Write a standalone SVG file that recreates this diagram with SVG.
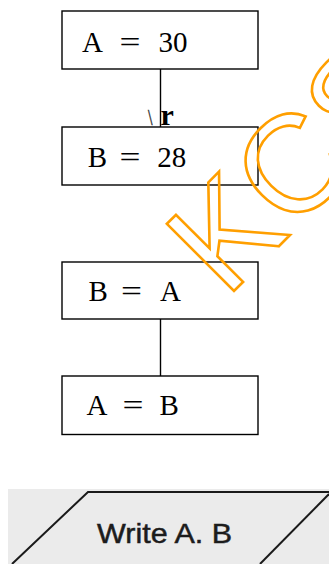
<svg xmlns="http://www.w3.org/2000/svg" width="329" height="564" viewBox="0 0 329 564">
<style>
.box{fill:none;stroke:#000;stroke-width:1.4}
.conn{stroke:#000;stroke-width:1.4}
.lbl{font-family:"Liberation Serif","Times New Roman",serif;font-size:29px;fill:#000}
.wm{font-family:"Liberation Sans",Arial,sans-serif;font-size:138px;fill:none;stroke:#FF9F00;stroke-width:2.6;stroke-linejoin:miter}
</style>
<rect width="329" height="564" fill="#fff"/>
<g id="connectors">
<line class="conn" x1="160.5" y1="69" x2="160.5" y2="127"/>
<line class="conn" x1="160.5" y1="319" x2="160.5" y2="376"/>
<text transform="translate(148,125) scale(0.7,1)" style="font-family:'Liberation Serif',serif;font-size:23px;fill:#333;stroke:#333;stroke-width:0.5">\</text>
<text x="160.5" y="124.5" style="font-family:'Liberation Serif',serif;font-size:30px;font-weight:bold;fill:#000">r</text>
</g>
<g id="node-a30">
<rect class="box" x="62" y="11" width="196" height="58"/>
<text class="lbl" y="52"><tspan x="82">A</tspan><tspan x="119.5" textLength="21" lengthAdjust="spacingAndGlyphs">=</tspan><tspan x="158.5">30</tspan></text>
</g>
<g id="node-b28">
<rect class="box" x="62" y="127" width="196" height="58"/>
<text class="lbl" y="167"><tspan x="87.8">B</tspan><tspan x="119.5" textLength="21" lengthAdjust="spacingAndGlyphs">=</tspan><tspan x="157.3">28</tspan></text>
</g>
<g id="node-ba">
<rect class="box" x="62" y="262" width="196" height="57"/>
<text class="lbl" y="301"><tspan x="88.5">B</tspan><tspan x="121" textLength="21" lengthAdjust="spacingAndGlyphs">=</tspan><tspan x="160">A</tspan></text>
</g>
<g id="node-ab">
<rect class="box" x="62" y="376" width="196" height="58.5"/>
<text class="lbl" y="415"><tspan x="86.5">A</tspan><tspan x="122.5" textLength="21" lengthAdjust="spacingAndGlyphs">=</tspan><tspan x="159.5">B</tspan></text>
</g>
<g id="node-write">
<rect x="8" y="489" width="321" height="75" fill="#ebebeb"/>
<path d="M12,564 L88,492 L329,492" fill="none" stroke="#1a1a1a" stroke-width="2"/>
<path d="M329,494 L260,564" fill="none" stroke="#1a1a1a" stroke-width="2"/>
<text x="97" y="543" textLength="135" lengthAdjust="spacingAndGlyphs" style="font-family:'Liberation Sans',Arial,sans-serif;font-size:28px;fill:#1c1c1c;stroke:#1c1c1c;stroke-width:0.5">Write A. B</text>
</g>
<g id="watermark">
<text class="wm" transform="translate(226,299) rotate(-45)">KCS</text>
</g>
</svg>
